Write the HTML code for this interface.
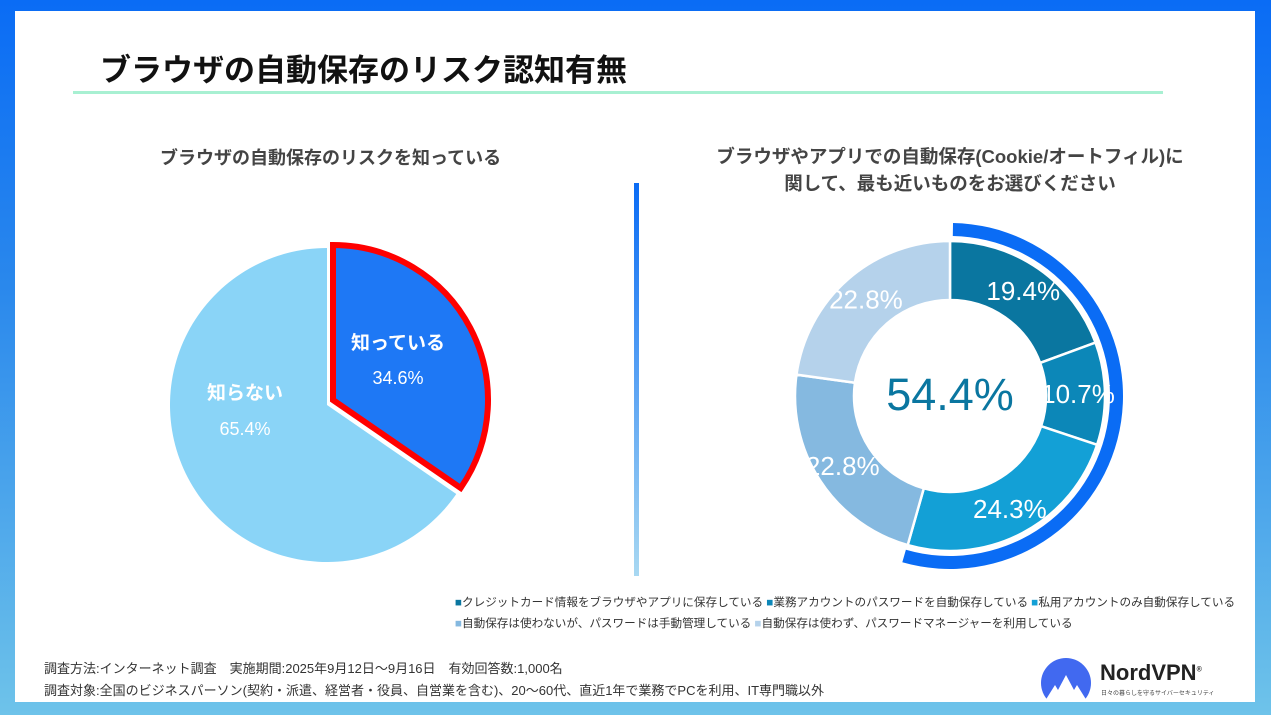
<!DOCTYPE html>
<html><head><meta charset="utf-8"><style>
html,body{margin:0;padding:0;}
body{width:1271px;height:715px;overflow:hidden;background:linear-gradient(180deg,#0a6cf5 0%,#2a88ec 40%,#6ec3ea 100%);font-family:"Liberation Sans","Noto Sans CJK JP",sans-serif;position:relative;}
.card{position:absolute;left:15px;top:11px;width:1240px;height:691px;background:#fff;}
.t{position:absolute;white-space:nowrap;}
</style></head><body>
<div class="card"></div>
<div class="t" style="left:100px;top:45px;font-size:31px;font-weight:bold;color:#111;">ブラウザの自動保存のリスク認知有無</div>
<div style="position:absolute;left:73px;top:91px;width:1090px;height:3px;background:#a8f0d2;"></div>
<div class="t" style="left:160px;top:144px;font-size:18px;font-weight:bold;color:#444;">ブラウザの自動保存のリスクを知っている</div>
<div class="t" style="left:690px;top:143px;width:520px;text-align:center;font-size:18.5px;font-weight:bold;color:#444;line-height:27px;">ブラウザやアプリでの自動保存(Cookie/オートフィル)に<br>関して、最も近いものをお選びください</div>
<div style="position:absolute;left:634px;top:183px;width:5px;height:393px;background:linear-gradient(180deg,#0a6cf5,#a8d8f2);"></div>
<svg id="s" width="1271" height="715" style="position:absolute;left:0;top:0;"></svg>
<div class="t" style="left:455px;top:592px;font-size:11.6px;color:#333;line-height:21px;">
<span style="color:#0a76a0">■</span>クレジットカード情報をブラウザやアプリに保存している <span style="color:#0c87b8">■</span>業務アカウントのパスワードを自動保存している <span style="color:#13a0d6">■</span>私用アカウントのみ自動保存している<br>
<span style="color:#85b9e0">■</span>自動保存は使わないが、パスワードは手動管理している <span style="color:#b5d2eb">■</span>自動保存は使わず、パスワードマネージャーを利用している</div>
<div class="t" style="left:44px;top:658px;font-size:13px;color:#333;line-height:22px;">調査方法:インターネット調査　実施期間:2025年9月12日～9月16日　有効回答数:1,000名<br>調査対象:全国のビジネスパーソン(契約・派遣、経営者・役員、自営業を含む)、20～60代、直近1年で業務でPCを利用、IT専門職以外</div>
<svg width="60" height="50" style="position:absolute;left:1036px;top:655px;">
<defs><clipPath id="cl"><rect x="0" y="0" width="60" height="46"/></clipPath></defs>
<circle cx="30" cy="28" r="25" fill="#4169f0" clip-path="url(#cl)"/>
<path d="M9 46 L19 30 L22 35 L30 20 L38 35 L41 30 L51 46 Z" fill="#fff"/>
</svg>
<div class="t" style="left:1100px;top:660px;font-size:22px;font-weight:bold;color:#222;">NordVPN<sup style="font-size:7px">®</sup></div>
<div class="t" style="left:1101px;top:688px;font-size:6px;color:#444;">日々の暮らしを守るサイバーセキュリティ</div>
<script>
var s=document.getElementById('s'),h='';
function P(cx,cy,r,a){a=a*Math.PI/180;return [cx+r*Math.sin(a),cy-r*Math.cos(a)];}
function sec(cx,cy,r0,r1,a0,a1,f,st,sw){var l=(a1-a0)>180?1:0,p0=P(cx,cy,r1,a0),p1=P(cx,cy,r1,a1),d;
if(r0==0){d='M'+cx+' '+cy+'L'+p0+'A'+r1+' '+r1+' 0 '+l+' 1 '+p1+'Z';}
else{var q1=P(cx,cy,r0,a1),q0=P(cx,cy,r0,a0);d='M'+p0+'A'+r1+' '+r1+' 0 '+l+' 1 '+p1+'L'+q1+'A'+r0+' '+r0+' 0 '+l+' 0 '+q0+'Z';}
h+='<path d="'+d+'" fill="'+f+'" stroke="'+st+'" stroke-width="'+sw+'" stroke-linejoin="miter"/>';}
sec(327,405,0,157,124.56,360,'#8ad4f7','none',0);
sec(333,400,0,155,0,124.56,'#1e78f5','#ff0000',6);
sec(950,396,160,173,1,196,'#0a6cf5','none',0);
var v=[19.4,10.7,24.3,22.8,22.8],c=['#0a76a0','#0c87b8','#13a0d6','#85b9e0','#b5d2eb'],a=0;
for(var i=0;i<5;i++){var b=a+v[i]*3.6;sec(950,396,96,155,a,b,c[i],'#fff',2.5);
var m=P(950,396,128,(a+b)/2);h+='<text x="'+m[0]+'" y="'+(m[1]+9)+'" font-size="26" fill="#fff" text-anchor="middle" font-family="Liberation Sans,sans-serif">'+v[i].toFixed(1)+'%</text>';a=b;}
h+='<text x="950" y="410" font-size="45" fill="#0a76a0" text-anchor="middle" font-family="Liberation Sans,sans-serif">54.4%</text>';
h+='<text x="398" y="349" font-size="19" font-weight="bold" fill="#fff" text-anchor="middle" font-family="Liberation Sans,Noto Sans CJK JP,sans-serif">知っている</text>';
h+='<text x="398" y="384" font-size="18" fill="#fff" text-anchor="middle" font-family="Liberation Sans,sans-serif">34.6%</text>';
h+='<text x="245" y="399" font-size="19" font-weight="bold" fill="#fff" text-anchor="middle" font-family="Liberation Sans,Noto Sans CJK JP,sans-serif">知らない</text>';
h+='<text x="245" y="435" font-size="18" fill="#fff" text-anchor="middle" font-family="Liberation Sans,sans-serif">65.4%</text>';
s.innerHTML=h;
</script>
</body></html>
